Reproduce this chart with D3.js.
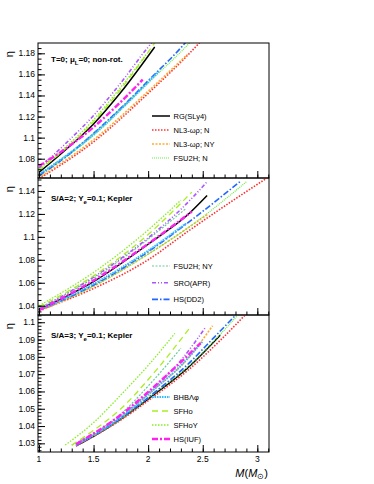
<!DOCTYPE html>
<html>
<head>
<meta charset="utf-8">
<script src="https://cdn.jsdelivr.net/npm/d3@7"></script>
<style>
  body { margin: 0; background: #fff; }
  text { font-family: "Liberation Sans", Arial, sans-serif; }
</style>
</head>
<body>
<div id="chart"></div>
<script>
// EOS names (same order in every curve list below)
const eosNames = ["RG(SLy4)", "NL3-ωρ; N", "NL3-ωρ; NY", "FSU2H; N", "FSU2H; NY",
                  "SRO(APR)", "HS(DD2)", "BHBΛφ", "SFHo", "SFHoY", "HS(IUF)"];

// panel 1: T=0, non-rotating  [M, eta]
const curvesNonRot = [
  [[1.0,1.067],[1.25,1.089],[1.5,1.113],[1.75,1.143],[2.06,1.186]],
  [[1.0,1.061],[1.5,1.096],[2.0,1.142],[2.47,1.19],[2.6,1.205]],
  [[1.0,1.062],[1.5,1.098],[2.0,1.144],[2.36,1.179]],
  [[1.0,1.064],[1.5,1.102],[2.0,1.152],[2.38,1.19],[2.45,1.198]],
  [[1.0,1.065],[1.5,1.104],[1.75,1.128],[1.99,1.152]],
  [[1.0,1.071],[1.25,1.095],[1.5,1.121],[1.75,1.152],[2.0,1.186],[2.2,1.21]],
  [[1.0,1.064],[1.25,1.082],[1.5,1.104],[1.75,1.128],[2.0,1.154],[2.34,1.19],[2.42,1.2]],
  [[1.0,1.065],[1.5,1.103],[1.75,1.127],[2.1,1.163]],
  [[1.0,1.069],[1.5,1.115],[1.75,1.146],[2.06,1.19]],
  [[1.0,1.070],[1.5,1.117],[1.75,1.148],[1.99,1.18]],
  [[1.0,1.073],[1.25,1.090],[1.5,1.110],[1.75,1.134],[1.95,1.155]]
];

// panel 2: S/A=2, Ye=0.1, Kepler
const curvesSA2 = [
  [[1.0,1.0365],[1.5,1.061],[2.05,1.097],[2.36,1.119],[2.54,1.136]],
  [[1.0,1.036],[1.5,1.055],[2.0,1.080],[2.36,1.1045],[2.75,1.13],[3.1,1.152]],
  [[1.0,1.035],[1.5,1.057],[2.0,1.085],[2.55,1.12]],
  [[1.0,1.036],[1.5,1.057],[2.0,1.085],[2.36,1.1075],[2.9,1.148]],
  [[1.0,1.038],[1.5,1.064],[2.0,1.098],[2.35,1.125]],
  [[1.0,1.037],[1.5,1.065],[2.05,1.103],[2.3,1.124],[2.54,1.148]],
  [[1.0,1.036],[1.5,1.058],[2.0,1.087],[2.36,1.112],[2.84,1.148]],
  [[1.0,1.036],[1.5,1.059],[2.0,1.088],[2.35,1.112]],
  [[1.0,1.039],[1.5,1.066],[2.0,1.102],[2.4,1.139]],
  [[1.0,1.040],[1.5,1.069],[2.0,1.106],[2.3,1.132]],
  [[1.0,1.036],[1.5,1.062],[2.0,1.094],[2.4,1.122]]
];

// panel 3: S/A=3, Ye=0.1, Kepler
const curvesSA3 = [
  [[1.34,1.0285],[1.5,1.034],[1.75,1.044],[2.05,1.058],[2.36,1.0735],[2.66,1.0925]],
  [[1.34,1.0285],[1.75,1.0435],[2.05,1.057],[2.36,1.072],[2.66,1.0895],[2.9,1.105]],
  [[1.34,1.029],[1.75,1.045],[2.05,1.061],[2.35,1.078],[2.59,1.098]],
  [[1.34,1.029],[1.75,1.044],[2.05,1.0585],[2.36,1.074],[2.6,1.089],[2.82,1.104]],
  [[1.3,1.029],[1.75,1.047],[2.05,1.0666],[2.3,1.085]],
  [[1.34,1.0295],[1.75,1.046],[2.05,1.062],[2.3,1.078],[2.53,1.0975]],
  [[1.34,1.029],[1.75,1.0445],[2.05,1.059],[2.36,1.0755],[2.6,1.091],[2.8,1.104]],
  [[1.34,1.029],[1.75,1.045],[2.05,1.061],[2.3,1.075],[2.5,1.089]],
  [[1.3,1.029],[1.5,1.0375],[1.75,1.050],[2.05,1.0705],[2.39,1.0975]],
  [[1.24,1.029],[1.5,1.042],[1.75,1.058],[2.0,1.075],[2.245,1.0936]],
  [[1.34,1.0295],[1.75,1.0465],[2.05,1.0625],[2.25,1.074],[2.48,1.088]]
];

const xTickValues = [1, 1.5, 2, 2.5, 3];
const yTicksP1 = [1.08, 1.1, 1.12, 1.14, 1.16, 1.18];
const yTicksP2 = [1.04, 1.06, 1.08, 1.1, 1.12, 1.14];
const yTicksP3 = [1.03, 1.04, 1.05, 1.06, 1.07, 1.08, 1.09, 1.1];
const legendP1 = ["RG(SLy4)", "NL3-ωρ; N", "NL3-ωρ; NY", "FSU2H; N"];
const legendP2 = ["FSU2H; NY", "SRO(APR)", "HS(DD2)"];
const legendP3 = ["BHBΛφ", "SFHo", "SFHoY", "HS(IUF)"];

// line styles per EOS
const style = {
  "RG(SLy4)":   {c: "#000000", d: null,              w: 1.5},
  "NL3-ωρ; N":  {c: "#ff3030", d: "1.5,1.5",         w: 1.6},
  "NL3-ωρ; NY": {c: "#ffaa30", d: "2,1.5",           w: 1.6},
  "FSU2H; N":   {c: "#66ee44", d: "1,1",             w: 1.2},
  "FSU2H; NY":  {c: "#66cc99", d: "2,1.5",           w: 1.2},
  "SRO(APR)":   {c: "#aa55ff", d: "4,2,1,2,1,2",     w: 1.6},
  "HS(DD2)":    {c: "#2266ff", d: "6,2,1.5,2",       w: 1.6},
  "BHBΛφ":      {c: "#33bbff", d: "1.5,1",           w: 2},
  "SFHo":       {c: "#aaee22", d: "6,4",             w: 1.3},
  "SFHoY":      {c: "#88ee22", d: "1.5,1.5",         w: 1.3},
  "HS(IUF)":    {c: "#ff22ee", d: "6,2,2,2",         w: 2.4}
};

const width = 374, height = 484;
const left = 38, right = 269;

const svg = d3.select("#chart").append("svg")
  .attr("width", width).attr("height", height)
  .style("background", "#fff");

const x = d3.scaleLinear().domain([0.991, 3.107]).range([left, right]);

const panels = [
  {top: 43, bottom: 178, dom: [1.0617, 1.1898], ticks: yTicksP1, minor: 0.005, data: curvesNonRot, legend: legendP1, legY: 116, legStep: 14},
  {top: 178, bottom: 315, dom: [1.0319, 1.1513], ticks: yTicksP2, minor: 0.005, data: curvesSA2, legend: legendP2, legY: 266, legStep: 16.7},
  {top: 315, bottom: 452, dom: [1.025, 1.1042], ticks: yTicksP3, minor: 0.002, data: curvesSA3, legend: legendP3, legY: 397, legStep: 14}
];

panels.forEach((p, i) => {
  const y = d3.scaleLinear().domain(p.dom).range([p.bottom, p.top]);
  const g = svg.append("g");

  const clipId = "clip" + i;
  svg.append("clipPath").attr("id", clipId)
    .append("rect").attr("x", left).attr("y", p.top)
    .attr("width", right - left).attr("height", p.bottom - p.top);

  // curves
  const line = d3.line().x(d => x(d[0])).y(d => y(d[1])).curve(d3.curveMonotoneX);
  const cg = g.append("g").attr("clip-path", `url(#${clipId})`);
  p.data.forEach((pts, k) => {
    const s = style[eosNames[k]];
    cg.append("path").datum(pts)
      .attr("d", line)
      .attr("fill", "none")
      .attr("stroke", s.c)
      .attr("stroke-width", s.w)
      .attr("stroke-dasharray", s.d);
  });

  // frame
  g.append("rect").attr("x", left).attr("y", p.top)
    .attr("width", right - left).attr("height", p.bottom - p.top)
    .attr("fill", "none").attr("stroke", "#000").attr("stroke-width", 1);

  // y axis (ticks inside)
  const yAxis = d3.axisRight(y).tickValues(p.ticks).tickSize(7).tickFormat("");
  g.append("g").attr("transform", `translate(${left},0)`).call(yAxis)
    .call(a => a.select(".domain").remove());
  const minors = d3.range(Math.ceil(p.dom[0] / p.minor) * p.minor, p.dom[1], p.minor);
  g.append("g").attr("transform", `translate(${left},0)`)
    .call(d3.axisRight(y).tickValues(minors).tickSize(3.5).tickFormat(""))
    .call(a => a.select(".domain").remove());
  g.selectAll(".tick line").attr("stroke", "#000");
  g.append("g").selectAll("text").data(p.ticks).join("text")
    .attr("x", left - 3).attr("y", d => y(d) + 3)
    .attr("text-anchor", "end").attr("font-size", 8.5)
    .text(d => d3.format("")(+d.toFixed(2)));

  // x axis ticks (inside, at bottom of panel)
  const xMinors = d3.range(1, 3.11, 0.1);
  const xg = g.append("g").attr("transform", `translate(0,${p.bottom})`);
  xg.call(d3.axisTop(x).tickValues(xMinors).tickSize(3.5).tickFormat(""))
    .call(a => a.select(".domain").remove());
  g.append("g").attr("transform", `translate(0,${p.bottom})`)
    .call(d3.axisTop(x).tickValues(xTickValues).tickSize(7).tickFormat(""))
    .call(a => a.select(".domain").remove());

  // y title
  svg.append("text")
    .attr("transform", `translate(13,${p.top + 8}) rotate(-90)`)
    .attr("text-anchor", "end").attr("font-size", 11)
    .text("η");

  // legend
  p.legend.forEach((name, k) => {
    const s = style[name];
    const ly = p.legY + k * p.legStep;
    g.append("line").attr("x1", 152).attr("x2", 170).attr("y1", ly).attr("y2", ly)
      .attr("stroke", s.c).attr("stroke-width", s.w).attr("stroke-dasharray", s.d);
    g.append("text").attr("x", 173.5).attr("y", ly + 2.8)
      .attr("font-size", 7.5).text(name);
  });
});

// panel labels
const lab1 = svg.append("text").attr("x", 51).attr("y", 62)
  .attr("font-size", 8).attr("font-weight", "bold");
lab1.append("tspan").text("T=0; μ");
lab1.append("tspan").attr("font-size", 6).attr("dy", 2.5).text("L");
lab1.append("tspan").attr("dy", -2.5).text("=0; non-rot.");

[["S/A=2; Y", 201], ["S/A=3; Y", 338]].forEach(([t, yy]) => {
  const lab = svg.append("text").attr("x", 51).attr("y", yy)
    .attr("font-size", 8).attr("font-weight", "bold");
  lab.append("tspan").text(t);
  lab.append("tspan").attr("font-size", 6).attr("dy", 2.5).text("e");
  lab.append("tspan").attr("dy", -2.5).text("=0.1; Kepler");
});

// x tick labels
svg.append("g").selectAll("text").data(xTickValues).join("text")
  .attr("x", d => x(d)).attr("y", 462)
  .attr("text-anchor", "middle").attr("font-size", 8.5)
  .text(d => d);

// x title
const xt = svg.append("text").attr("x", 268).attr("y", 477)
  .attr("text-anchor", "end").attr("font-size", 11);
xt.append("tspan").attr("font-style", "italic").text("M");
xt.append("tspan").text("(");
xt.append("tspan").attr("font-style", "italic").text("M");
xt.append("tspan").attr("font-size", 8).attr("dy", 2).text("⊙");
xt.append("tspan").attr("dy", -2).text(")");
</script>
</body>
</html>
